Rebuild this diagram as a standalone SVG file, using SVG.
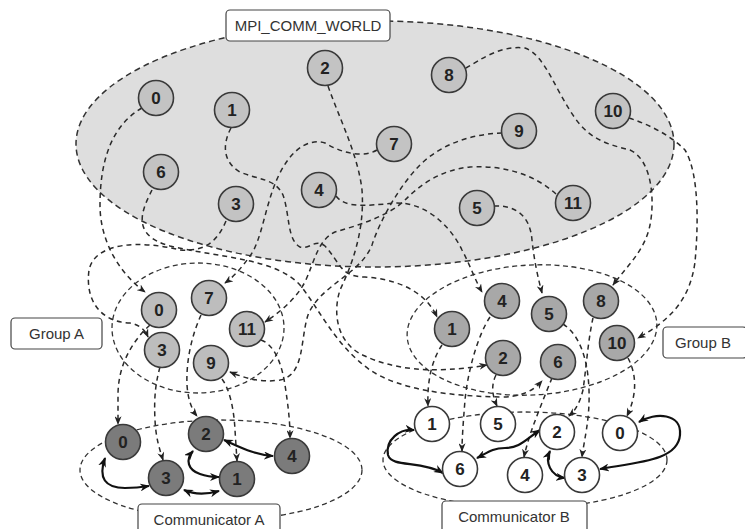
<svg xmlns="http://www.w3.org/2000/svg" width="745" height="529" viewBox="0 0 745 529">
<defs>
<marker id="ah" viewBox="0 0 10 8" refX="9" refY="4" markerWidth="9" markerHeight="7" markerUnits="userSpaceOnUse" orient="auto-start-reverse">
<path d="M0,0 L10,4 L0,8 L3,4 z" fill="#222"/>
</marker>
<marker id="ahs" viewBox="0 0 10 8" refX="9" refY="4" markerWidth="10" markerHeight="8" markerUnits="userSpaceOnUse" orient="auto-start-reverse">
<path d="M0,0 L10,4 L0,8 L3,4 z" fill="#111"/>
</marker>
</defs>
<style>
.region{fill:none;stroke:#333;stroke-width:1.3;stroke-dasharray:5,3.5}
.world{fill:#dedede;stroke:#333;stroke-width:1.5;stroke-dasharray:6,4}
.conn path{fill:none;stroke:#2a2a2a;stroke-width:1.5;stroke-dasharray:5,4;marker-end:url(#ah)}
.link path{fill:none;stroke:#111;stroke-width:2.2;marker-start:url(#ahs);marker-end:url(#ahs)}
.node circle{stroke:#3a3a3a;stroke-width:1.6}
.w circle{fill:#c3c3c3}
.ga circle{fill:#bdbdbd}
.gb circle{fill:#a8a8a8}
.ca circle{fill:#7b7b7b}
.cb circle{fill:#ffffff}
.node text{font-family:"Liberation Sans",Arial,sans-serif;font-size:17px;font-weight:bold;fill:#222;text-anchor:middle}
.label rect{fill:#fff;stroke:#444;stroke-width:1.2}
.label text{font-family:"Liberation Sans",Arial,sans-serif;font-size:15px;fill:#333;text-anchor:middle}
</style>
<rect width="745" height="529" fill="#ffffff"/>

<g id="regions">
<ellipse id="world-region" class="world" cx="375" cy="144" rx="299" ry="123"/>
<ellipse id="groupA-region" class="region" cx="198" cy="328" rx="86" ry="65"/>
<ellipse id="groupB-region" class="region" cx="532" cy="330" rx="125" ry="65" transform="rotate(-3 532 330)"/>
<ellipse id="commA-region" class="region" cx="221" cy="470" rx="141" ry="50"/>
<ellipse id="commB-region" class="region" cx="525" cy="460" rx="142" ry="48"/>
</g>

<g id="connectors">
<g class="conn">
<path d="M142,108 C112,125 100,160 100,205 C100,240 118,272 145,292"/>
<path d="M226,221 C218,240 206,252 180,250 C140,240 95,242 89,270 C85,300 100,322 130,323 C140,325 145,330 148,337"/>
<path d="M377,150 C365,157 345,155 325,143 C305,137 288,155 278,177 C265,205 262,240 250,256 C240,270 232,278 225,283"/>
<path d="M556,194 C535,175 505,165 470,167 C440,170 420,185 405,200 C390,215 360,225 335,232 C318,240 315,260 305,282 C295,300 280,312 265,322"/>
<path d="M502,133 C470,134 440,145 420,165 C400,185 380,220 372,245 C360,275 320,285 308,315 C300,340 305,375 280,380 C260,383 245,378 230,372"/>
<path d="M231,128 C222,145 223,162 240,172 C258,180 275,178 283,195 C290,215 287,240 300,247 C310,250 315,238 325,246 C340,262 340,277 365,277 C395,279 425,290 437,317"/>
<path d="M328,86 C340,120 358,155 362,190 C365,230 352,265 340,290 C332,315 338,345 365,356 C390,368 430,375 487,365"/>
<path d="M336,196 C345,208 365,206 395,203 C425,202 450,225 462,250 C470,265 475,280 482,292"/>
<path d="M494,206 C515,205 530,215 532,240 C534,260 538,278 542,293"/>
<path d="M152,190 C142,210 130,235 170,246 C220,258 275,258 300,285 C320,310 335,345 370,370 C400,390 450,396 500,397 C520,397 532,392 542,381"/>
<path d="M466,68 C480,60 500,45 525,48 C545,55 555,90 575,118 C590,140 610,145 630,150 C652,160 655,200 650,225 C645,250 628,265 613,285"/>
<path d="M629,118 C650,125 670,135 685,150 C700,175 698,230 695,262 C690,300 670,320 638,338"/>
<path d="M150,325 C128,345 118,370 118,395 L118,424"/>
<path d="M160,367 C155,385 154,400 155,420 C156,440 160,450 163,460"/>
<path d="M201,315 C192,335 186,360 187,385 C188,400 192,410 197,416"/>
<path d="M222,379 C230,390 234,410 235,430 L237,461"/>
<path d="M261,340 C275,345 282,365 285,385 C288,405 290,420 290,438"/>
<path d="M442,345 C432,360 427,380 428,406"/>
<path d="M490,317 C478,335 468,370 465,400 C463,425 462,440 462,451"/>
<path d="M496,375 C491,385 492,395 497,406"/>
<path d="M552,378 C545,395 535,420 530,435 C527,445 525,452 524,457"/>
<path d="M563,324 C580,335 588,360 589,390 C590,420 584,440 582,457"/>
<path d="M593,318 C588,340 586,370 583,390 C580,402 576,410 569,416"/>
<path d="M628,358 C637,375 637,395 627,416"/>
</g>
<g class="link">
<path d="M105,458 C98,478 105,488 125,488 C135,488 143,487 149,486"/>
<path d="M184,490 C195,495 208,494 219,491"/>
<path d="M193,451 C185,460 188,470 200,474 C208,477 213,477 219,477"/>
<path d="M224,440 C240,447 255,455 273,456"/>
<path d="M414,430 C400,428 385,440 388,455 C392,468 420,460 443,473"/>
<path d="M540,430 C525,440 520,448 505,448 C492,448 487,453 477,458"/>
<path d="M550,451 C545,462 550,476 565,478"/>
<path d="M639,422 C655,412 682,413 680,435 C678,460 640,462 600,469"/>
</g>
</g>

<g id="world-nodes">
<g id="w0" class="node w"><circle cx="156" cy="98" r="17.5"/><text x="156" y="104">0</text></g>
<g id="w1" class="node w"><circle cx="232" cy="110" r="17.5"/><text x="232" y="116">1</text></g>
<g id="w2" class="node w"><circle cx="325" cy="68" r="17.5"/><text x="325" y="74">2</text></g>
<g id="w3" class="node w"><circle cx="236" cy="204" r="17.5"/><text x="236" y="210">3</text></g>
<g id="w4" class="node w"><circle cx="319" cy="190" r="17.5"/><text x="319" y="196">4</text></g>
<g id="w5" class="node w"><circle cx="477" cy="208" r="17.5"/><text x="477" y="214">5</text></g>
<g id="w6" class="node w"><circle cx="161" cy="172" r="17.5"/><text x="161" y="178">6</text></g>
<g id="w7" class="node w"><circle cx="394" cy="144" r="17.5"/><text x="394" y="150">7</text></g>
<g id="w8" class="node w"><circle cx="449" cy="75" r="17.5"/><text x="449" y="81">8</text></g>
<g id="w9" class="node w"><circle cx="519" cy="131" r="17.5"/><text x="519" y="137">9</text></g>
<g id="w10" class="node w"><circle cx="613" cy="111" r="17.5"/><text x="613" y="117">10</text></g>
<g id="w11" class="node w"><circle cx="573" cy="203" r="17.5"/><text x="573" y="209">11</text></g>
</g>

<g id="groupA-nodes">
<g id="a0" class="node ga"><circle cx="159" cy="310" r="17.5"/><text x="159" y="316">0</text></g>
<g id="a7" class="node ga"><circle cx="209" cy="298" r="17.5"/><text x="209" y="304">7</text></g>
<g id="a11" class="node ga"><circle cx="247" cy="329" r="17.5"/><text x="247" y="335">11</text></g>
<g id="a3" class="node ga"><circle cx="162" cy="350" r="17.5"/><text x="162" y="356">3</text></g>
<g id="a9" class="node ga"><circle cx="211" cy="363" r="17.5"/><text x="211" y="369">9</text></g>
</g>

<g id="groupB-nodes">
<g id="b4" class="node gb"><circle cx="502" cy="301" r="17.5"/><text x="502" y="307">4</text></g>
<g id="b5" class="node gb"><circle cx="549" cy="314" r="17.5"/><text x="549" y="320">5</text></g>
<g id="b8" class="node gb"><circle cx="601" cy="301" r="17.5"/><text x="601" y="307">8</text></g>
<g id="b1" class="node gb"><circle cx="452" cy="329" r="17.5"/><text x="452" y="335">1</text></g>
<g id="b10" class="node gb"><circle cx="617" cy="343" r="17.5"/><text x="617" y="349">10</text></g>
<g id="b2" class="node gb"><circle cx="503" cy="358" r="17.5"/><text x="503" y="364">2</text></g>
<g id="b6" class="node gb"><circle cx="558" cy="362" r="17.5"/><text x="558" y="368">6</text></g>
</g>

<g id="commA-nodes">
<g id="ca0" class="node ca"><circle cx="123" cy="442" r="17.5"/><text x="123" y="448">0</text></g>
<g id="ca2" class="node ca"><circle cx="206" cy="434" r="17.5"/><text x="206" y="440">2</text></g>
<g id="ca4" class="node ca"><circle cx="292" cy="456" r="17.5"/><text x="292" y="462">4</text></g>
<g id="ca3" class="node ca"><circle cx="166" cy="478" r="17.5"/><text x="166" y="484">3</text></g>
<g id="ca1" class="node ca"><circle cx="237" cy="479" r="17.5"/><text x="237" y="485">1</text></g>
</g>

<g id="commB-nodes">
<g id="cb1" class="node cb"><circle cx="432" cy="424" r="17.5"/><text x="432" y="430">1</text></g>
<g id="cb5" class="node cb"><circle cx="498" cy="424" r="17.5"/><text x="498" y="430">5</text></g>
<g id="cb2" class="node cb"><circle cx="557" cy="432" r="17.5"/><text x="557" y="438">2</text></g>
<g id="cb0" class="node cb"><circle cx="620" cy="433" r="17.5"/><text x="620" y="439">0</text></g>
<g id="cb6" class="node cb"><circle cx="460" cy="469" r="17.5"/><text x="460" y="475">6</text></g>
<g id="cb4" class="node cb"><circle cx="525" cy="475" r="17.5"/><text x="525" y="481">4</text></g>
<g id="cb3" class="node cb"><circle cx="582" cy="475" r="17.5"/><text x="582" y="481">3</text></g>
</g>

<g id="labels">
<g id="label-world" class="label"><rect x="226" y="10" width="164" height="31" rx="4"/><text x="308" y="31">MPI_COMM_WORLD</text></g>
<g id="label-groupA" class="label"><rect x="11" y="318" width="91" height="31" rx="4"/><text x="56.5" y="339">Group A</text></g>
<g id="label-groupB" class="label"><rect x="663" y="327" width="84" height="31" rx="4"/><text x="703" y="348">Group B</text></g>
<g id="label-commA" class="label"><rect x="138" y="504" width="142" height="32" rx="4"/><text x="209" y="525">Communicator A</text></g>
<g id="label-commB" class="label"><rect x="442" y="501" width="145" height="32" rx="4"/><text x="514" y="522">Communicator B</text></g>
</g>
</svg>
